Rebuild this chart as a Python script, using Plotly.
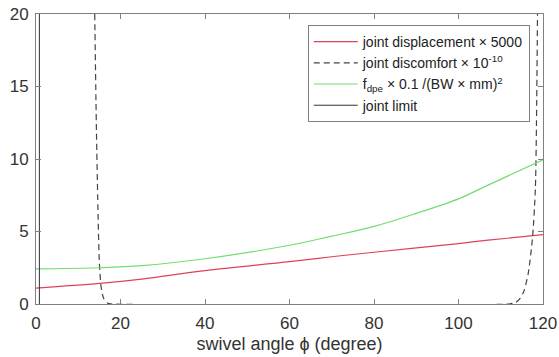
import plotly.graph_objects as go

# swivel angle samples (degree)
disp_x = [0, 15, 25, 40, 60, 70, 80, 100, 107, 120]
disp_y = [1.10, 1.42, 1.72, 2.30, 2.92, 3.26, 3.57, 4.17, 4.40, 4.78]

fdpe_x = [0, 15, 25, 40, 60, 70, 80, 90, 100, 107, 120]
fdpe_y = [2.42, 2.50, 2.64, 3.12, 4.05, 4.68, 5.35, 6.25, 7.25, 8.20, 9.95]

disc_x = [13.9, 14.3, 14.7, 15.0, 15.4, 16.0, 17.0, 18.0, 112.0, 113.5, 114.5,
          115.5, 116.5, 117.5, 118.2, 118.7]
disc_y = [20.0, 12.0, 6.0, 2.8, 1.2, 0.4, 0.05, 0.0, 0.0, 0.1, 0.35,
          0.9, 2.1, 4.5, 8.0, 20.0]

limit_x = [0.8, 0.8]
limit_y = [0, 20]

x_ticks = [0, 20, 40, 60, 80, 100, 120]
y_ticks = [0, 5, 10, 15, 20]

fig = go.Figure()
fig.add_trace(go.Scatter(x=disp_x, y=disp_y, mode="lines", line=dict(color="#e0405a", width=1.2, shape="spline"),
                         name="joint displacement × 5000", legendgroup="a"))
fig.add_trace(go.Scatter(x=disc_x, y=disc_y, mode="lines", line=dict(color="#444444", width=1.2, dash="6px,4px", shape="spline", smoothing=0.6),
                         name="joint discomfort × 10<sup>-10</sup>", legendgroup="b"))
fig.add_trace(go.Scatter(x=fdpe_x, y=fdpe_y, mode="lines", line=dict(color="#70dd70", width=1.2, shape="spline"),
                         name="f<sub>dpe</sub> × 0.1 /(BW × mm)<sup>2</sup>", legendgroup="c"))
fig.add_trace(go.Scatter(x=limit_x, y=limit_y, mode="lines", line=dict(color="#333333", width=1),
                         name="joint limit", legendgroup="d"))

axis_common = dict(showline=True, linecolor="#808080", linewidth=1, mirror="ticks",
                   ticks="inside", ticklen=5, tickcolor="#808080", showgrid=False, zeroline=False,
                   automargin=False, tickfont=dict(size=17, color="#333333"))
fig.update_xaxes(range=[0, 120], tickvals=x_ticks, ticklabelstandoff=4,
                 title=dict(text="swivel angle ϕ (degree)", font=dict(size=18, color="#333333"), standoff=4),
                 **axis_common)
fig.update_yaxes(range=[0, 20], tickvals=y_ticks, ticklabelstandoff=3, **axis_common)

fig.update_layout(
    width=559, height=357,
    margin=dict(l=36, r=16, t=14, b=53),
    paper_bgcolor="white", plot_bgcolor="white",
    font=dict(family="Liberation Sans, Arial, sans-serif", color="#333333"),
    legend=dict(x=0.536, y=0.962, xanchor="left", yanchor="top", bgcolor="white",
                bordercolor="#808080", borderwidth=1, font=dict(size=14, color="#222222"),
                tracegroupgap=0, itemwidth=44),
    showlegend=True,
)

fig.write_html("out.html", config={"displayModeBar": False},
               post_script="document.body.style.margin='0px';document.body.style.padding='0px';")
